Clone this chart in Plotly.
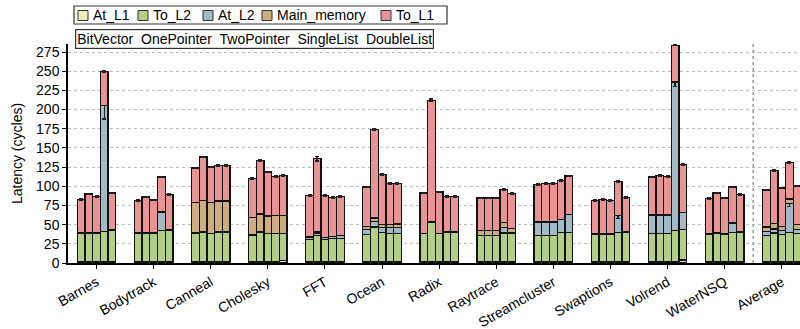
import plotly.graph_objects as go

# Benchmarks on the x axis and the five directory schemes drawn per benchmark
benchmarks = ["Barnes", "Bodytrack", "Canneal", "Cholesky", "FFT", "Ocean", "Radix",
              "Raytrace", "Streamcluster", "Swaptions", "Volrend", "WaterNSQ", "Average"]
schemes = ["BitVector", "OnePointer", "TwoPointer", "SingleList", "DoubleList"]

# Latency components (cycles); one row per benchmark, one column per scheme
at_l1 = [
    [1.5, 1.5, 1.5, 1.5, 1.5],
    [1.5, 1.5, 1.5, 1.5, 1.5],
    [1.5, 1.5, 1.5, 1.5, 1.5],
    [1.5, 1.5, 1.5, 1.5, 3.0],
    [1.5, 1.5, 1.5, 1.5, 1.5],
    [1.5, 1.5, 1.5, 1.5, 1.5],
    [1.5, 1.5, 1.5, 1.5, 1.5],
    [1.5, 1.5, 1.5, 1.5, 1.5],
    [1.5, 1.5, 1.5, 1.5, 1.5],
    [1.5, 1.5, 1.5, 1.5, 1.5],
    [1.5, 1.5, 1.5, 1.5, 4.0],
    [1.5, 1.5, 1.5, 1.5, 1.5],
    [1.5, 1.5, 1.5, 1.5, 1.7],
]
to_l2 = [
    [36.8, 37.5, 37.0, 39.8, 41.1],
    [36.8, 36.8, 36.8, 40.7, 40.5],
    [37.2, 39.0, 36.8, 38.5, 38.5],
    [35.0, 38.5, 36.8, 36.8, 35.3],
    [29.4, 34.6, 29.4, 30.3, 30.3],
    [35.5, 45.5, 38.1, 36.8, 36.8],
    [36.8, 52.0, 36.8, 38.1, 38.1],
    [34.2, 34.2, 34.2, 37.6, 37.6],
    [34.2, 34.2, 34.2, 38.1, 38.1],
    [35.9, 35.9, 35.9, 38.1, 38.1],
    [37.2, 37.2, 37.2, 40.7, 40.0],
    [35.9, 36.8, 35.9, 38.1, 39.0],
    [34.5, 37.5, 35.5, 38.1, 36.6],
]
at_l2 = [
    [0.8, 0.8, 0.8, 163.7, 1.0],
    [0.8, 0.8, 0.8, 24.3, 1.0],
    [0.5, 0.5, 0.5, 0.5, 0.5],
    [0.5, 0.5, 0.5, 0.5, 0.5],
    [3.0, 2.2, 2.1, 2.6, 4.3],
    [6.5, 7.4, 6.4, 7.7, 7.7],
    [0.5, 0.8, 0.5, 0.8, 0.8],
    [0.5, 0.5, 0.5, 7.0, 0.5],
    [17.8, 17.8, 17.8, 17.4, 23.5],
    [0.8, 0.8, 0.8, 22.6, 1.0],
    [23.9, 23.9, 23.9, 193.8, 21.7],
    [0.8, 0.8, 0.8, 12.4, 1.0],
    [5.0, 5.3, 5.2, 37.9, 5.3],
]
main_memory = [
    [0, 0, 0, 0, 0],
    [0, 0, 0, 0, 0],
    [39.5, 40.7, 40.2, 40.3, 40.3],
    [22.6, 23.5, 22.5, 23.0, 23.0],
    [0, 2.1, 0, 0, 0],
    [4.0, 4.3, 4.5, 4.5, 5.0],
    [0, 0, 0, 0, 0],
    [6.0, 6.0, 6.0, 6.6, 5.6],
    [0, 0, 0, 0, 0],
    [0, 0, 0, 0, 0],
    [0, 0, 0, 0, 0],
    [0, 0, 0, 0, 0],
    [6.0, 7.0, 5.6, 6.0, 6.9],
]
to_l1 = [
    [43.9, 50.2, 47.2, 45.0, 47.7],
    [42.6, 46.9, 42.9, 45.5, 46.0],
    [45.3, 56.3, 46.0, 46.2, 46.2],
    [50.4, 70.0, 57.5, 51.2, 52.2],
    [54.1, 95.6, 55.0, 51.1, 50.9],
    [51.5, 115.6, 64.8, 53.0, 52.5],
    [52.5, 157.7, 53.8, 46.6, 46.6],
    [42.6, 42.6, 42.6, 43.3, 45.2],
    [49.1, 50.5, 50.0, 50.4, 50.4],
    [43.5, 44.8, 43.5, 44.3, 44.7],
    [49.4, 51.4, 49.9, 48.0, 63.0],
    [46.1, 52.2, 46.5, 47.0, 47.7],
    [48.0, 69.2, 50.0, 47.5, 49.9],
]

# Error (cycles) shown at the top of a segment; None means no error bar
at_l2_err = [
    [None, None, None, 17.0, None],
    [None] * 5,
    [None] * 5,
    [None] * 5,
    [None] * 5,
    [None] * 5,
    [None] * 5,
    [None] * 5,
    [None] * 5,
    [None, None, None, 4.0, None],
    [None, None, None, 6.0, None],
    [None] * 5,
    [None, None, None, 4.0, None],
]
to_l1_err = [
    [0.7, 0.7, 0.7, 0.7, 0.7],
    [0.7, 0.7, 0.7, 0.7, 0.7],
    [0.7, 0.7, 0.7, 0.7, 0.7],
    [0.7, 0.7, 0.7, 0.7, 0.7],
    [0.7, 3.0, 0.7, 0.7, 0.7],
    [0.7, 1.2, 0.7, 0.7, 0.7],
    [0.7, 1.5, 0.7, 0.7, 0.7],
    [0.7, 0.7, 0.7, 0.7, 0.7],
    [0.7, 0.7, 0.7, 0.7, 0.7],
    [0.7, 0.7, 0.7, 0.7, 0.7],
    [0.7, 0.7, 0.7, 0.7, 0.7],
    [0.7, 0.7, 0.7, 0.7, 0.7],
    [0.7, 0.7, 0.7, 0.7, 0.7],
]

components = [
    ("At_L1", at_l1, None, "#efedb4"),
    ("To_L2", to_l2, None, "#b3cf85"),
    ("At_L2", at_l2, at_l2_err, "#a3b9c5"),
    ("Main_memory", main_memory, None, "#cdad7f"),
    ("To_L1", to_l1, to_l1_err, "#e89494"),
]

FONT = "Liberation Sans, Arial, sans-serif"
BAR_W = 0.135

# x position of each bar: benchmark index plus the scheme's offset within the group
xs = [g + (s - 2) * BAR_W for g in range(len(benchmarks)) for s in range(len(schemes))]

fig = go.Figure()
for name, table, err, color in components:
    ys = [v for row in table for v in row]
    trace = dict(
        x=xs, y=ys, name=name, width=BAR_W, showlegend=False,
        marker=dict(color=color, line=dict(color="#111111", width=1.3)),
    )
    if err is not None:
        trace["error_y"] = dict(type="data", array=[e for row in err for e in row],
                                symmetric=True, color="#222222", thickness=1.5, width=2)
    fig.add_trace(go.Bar(**trace))

# plot area geometry (px) used to place the legend boxes
W, H = 800, 329
ML, MR, MT, MB = 68, 0, 44, 66
PW, PH = W - ML - MR, H - MT - MB


def px_x(p):
    return (p - ML) / PW


def px_y(p):
    return (H - MB - p) / PH


shapes = []
annotations = []

# component legend: outlined box with colored swatches
shapes.append(dict(type="rect", xref="paper", yref="paper",
                   x0=px_x(74), x1=px_x(447), y0=px_y(24), y1=px_y(6),
                   line=dict(color="#333333", width=1.2), fillcolor="white", layer="above"))
swatch_x = [78, 138, 203, 262, 381]
for (name, _, _, color), sx in zip(components, swatch_x):
    shapes.append(dict(type="rect", xref="paper", yref="paper",
                       x0=px_x(sx), x1=px_x(sx + 10), y0=px_y(20.5), y1=px_y(10.5),
                       line=dict(color="#333333", width=1), fillcolor=color, layer="above"))
    annotations.append(dict(text=name, xref="paper", yref="paper",
                            x=px_x(sx + 13), y=px_y(15.5), xanchor="left", yanchor="middle",
                            showarrow=False, font=dict(family=FONT, size=14, color="black")))

# scheme order legend
annotations.append(dict(text="\u00a0\u00a0".join(schemes), xref="paper", yref="paper",
                        x=px_x(75), y=px_y(49), xanchor="left", yanchor="bottom",
                        showarrow=False, bordercolor="#333333", borderwidth=1.2, borderpad=1,
                        bgcolor="white", font=dict(family=FONT, size=14, color="black")))

# dotted separator before the average group
shapes.append(dict(type="line", xref="x", yref="paper",
                   x0=len(benchmarks) - 1.5, x1=len(benchmarks) - 1.5, y0=0, y1=1,
                   line=dict(color="#888888", width=1.3, dash="dot"), layer="below"))

fig.update_layout(
    width=W, height=H,
    margin=dict(l=ML, r=MR, t=MT, b=MB),
    barmode="stack",
    plot_bgcolor="white", paper_bgcolor="white",
    font=dict(family=FONT, size=14, color="black"),
    shapes=shapes, annotations=annotations,
    xaxis=dict(
        range=[-0.5, 12.32],
        tickvals=list(range(len(benchmarks))), ticktext=benchmarks,
        tickangle=-30, ticks="outside", ticklen=4, tickcolor="black",
        showline=True, linecolor="black", linewidth=1.5,
        showgrid=False, zeroline=False,
        tickfont=dict(family=FONT, size=14),
    ),
    yaxis=dict(
        range=[0, 285.5], tickvals=list(range(0, 276, 25)),
        ticks="outside", ticklen=4, tickcolor="black",
        showline=True, linecolor="black", linewidth=1.5,
        showgrid=True, gridcolor="#bbbbbb", griddash="dot", gridwidth=1,
        zeroline=False,
        title=dict(text="Latency (cycles)", font=dict(family=FONT, size=14), standoff=10),
        tickfont=dict(family=FONT, size=14),
    ),
)

fig.write_html("out.html")
